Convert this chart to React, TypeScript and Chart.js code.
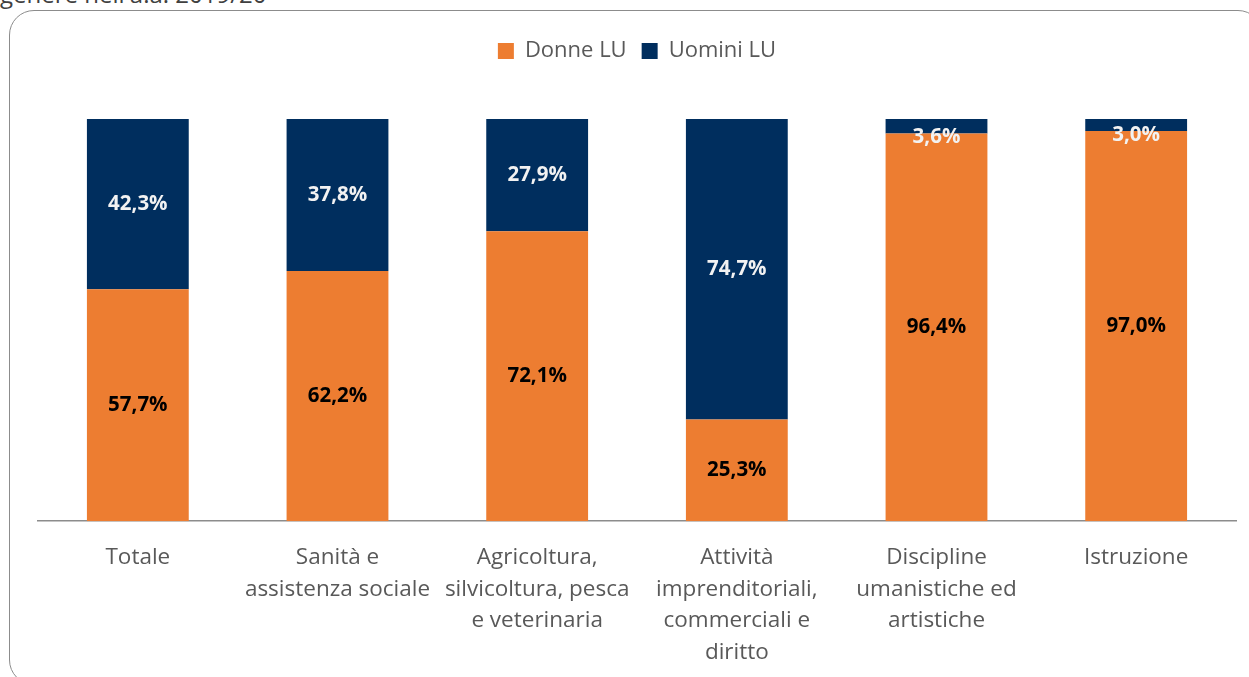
import React, { useEffect, useRef } from "react";
import { Chart, registerables } from "chart.js";

Chart.register(...registerables);

const categories: (string | string[])[] = [
  "Totale",
  ["Sanità e", "assistenza sociale"],
  ["Agricoltura,", "silvicoltura, pesca", "e veterinaria"],
  ["Attività", "imprenditoriali,", "commerciali e", "diritto"],
  ["Discipline", "umanistiche ed", "artistiche"],
  "Istruzione",
];
const donne = [57.7, 62.2, 72.1, 25.3, 96.4, 97.0];
const uomini = [42.3, 37.8, 27.9, 74.7, 3.6, 3.0];
const seriesNames = ["Donne LU", "Uomini LU"];

const ORANGE = "#ED7D31";
const NAVY = "#002E5E";
const FONT = "'Open Sans', sans-serif";

const fmt = (v: number) => v.toFixed(1).replace(".", ",") + "%";

const labelPlugin = {
  id: "segLabels",
  afterDatasetsDraw(chart: any) {
    const ctx = chart.ctx;
    ctx.save();
    ctx.font = `bold 20.5px ${FONT}`;
    ctx.textAlign = "center";
    ctx.textBaseline = "middle";
    chart.data.datasets.forEach((ds: any, di: number) => {
      const meta = chart.getDatasetMeta(di);
      meta.data.forEach((bar: any, i: number) => {
        const top = Math.min(bar.y, bar.base);
        const bottom = Math.max(bar.y, bar.base);
        const h = bottom - top;
        let y = (top + bottom) / 2;
        if (h < 25) y = bottom + 4;
        ctx.fillStyle = di === 0 ? "#000000" : "#F2F2F2";
        ctx.fillText(fmt(ds.data[i]), bar.x, y);
      });
    });
    ctx.restore();
  },
};

const legendMargin = {
  id: "legendMargin",
  beforeInit(chart: any) {
    const legend = chart.legend;
    if (!legend) return;
    const orig = legend.fit;
    legend.fit = function () {
      orig.call(this);
      this.height += 47;
    };
  },
};

export default function App() {
  const ref = useRef<HTMLCanvasElement | null>(null);
  useEffect(() => {
    if (!ref.current) return;
    const chart = new Chart(ref.current, {
      type: "bar",
      data: {
        labels: categories,
        datasets: [
          { label: seriesNames[0], data: donne, backgroundColor: ORANGE, borderWidth: 0 },
          { label: seriesNames[1], data: uomini, backgroundColor: NAVY, borderWidth: 0 },
        ],
      },
      options: {
        animation: false,
        responsive: false,
        maintainAspectRatio: false,
        layout: { padding: { left: 38, right: 13, top: 25, bottom: 0 } },
        datasets: { bar: { categoryPercentage: 1, barPercentage: 0.51 } } as any,
        plugins: {
          legend: {
            position: "top",
            labels: {
              font: { family: FONT, size: 22 },
              color: "#595959",
              boxWidth: 16,
              boxHeight: 16,
              padding: 15,
            },
          },
          tooltip: { enabled: false },
        },
        scales: {
          x: {
            stacked: true,
            grid: { display: true, drawOnChartArea: false, drawTicks: false, color: "rgba(0,0,0,0)" },
            border: { display: true, color: "#8C8C8C", width: 1.5 },
            ticks: {
              font: { family: FONT, size: 22.5, lineHeight: 1.42 },
              color: "#595959",
              padding: 20,
              maxRotation: 0,
              autoSkip: false,
            },
          },
          y: {
            stacked: true,
            display: false,
            min: 0,
            max: 100,
          },
        },
      },
      plugins: [labelPlugin, legendMargin],
    });
    return () => chart.destroy();
  }, []);

  return (
    <div
      style={{
        position: "fixed",
        left: 0,
        top: 0,
        width: 1249,
        height: 677,
        overflow: "hidden",
        background: "#fff",
      }}
    >
      <div
        style={{
          position: "absolute",
          left: 0,
          top: -22,
          fontFamily: FONT,
          fontSize: 24,
          lineHeight: "32px",
          color: "#404040",
          whiteSpace: "nowrap",
        }}
      >
        genere nell'a.a. 2019/20
      </div>
      <div
        style={{
          position: "absolute",
          left: 9,
          top: 10,
          width: 1254,
          height: 675,
          border: "1.5px solid #8C8C8C",
          borderRadius: 25,
          boxSizing: "border-box",
        }}
      />
      <canvas
        ref={ref}
        width={1249}
        height={689}
        style={{ position: "absolute", left: 0, top: 0, width: 1249, height: 689 }}
      />
    </div>
  );
}
